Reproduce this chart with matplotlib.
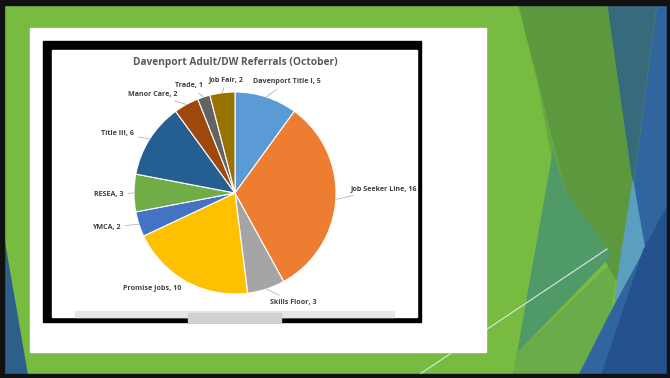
import numpy as np
import matplotlib.pyplot as plt
from matplotlib.patches import Rectangle, Polygon

# pie data
labels = ["Davenport Title I", "Job Seeker Line", "Skills Floor", "Promise Jobs", "YMCA",
          "RESEA", "Title III", "Manor Care", "Trade", "Job Fair"]
values = [5, 16, 3, 10, 2, 3, 6, 2, 1, 2]
colors = ["#5b9bd5", "#ed7d31", "#a5a5a5", "#ffc000", "#4472c4",
          "#70ad47", "#255e91", "#9e480e", "#636363", "#997300"]

# label text positions (pie units) and alignment
label_pos = [(0.18, 1.10), (1.14, 0.04), (0.35, -1.08), (-0.53, -0.94), (-1.13, -0.34),
             (-1.10, -0.01), (-1.00, 0.59), (-0.57, 0.98), (-0.32, 1.06), (-0.09, 1.12)]
label_ha = ["left", "left", "left", "right", "right", "right", "right", "right", "right", "center"]

W, H = 670, 378
fig = plt.figure(figsize=(W / 100, H / 100), dpi=100)

# slide background in pixel coords
bg = fig.add_axes([0, 0, 1, 1])
bg.set_xlim(0, W)
bg.set_ylim(H, 0)
bg.axis("off")
bg.add_patch(Rectangle((0, 0), W, H, color="#77bb41", zorder=0))

# facet shapes (right side + bottom left), back to front
shapes = [
    ([(620, 255), (517, 353), (512, 378), (600, 378)], "#6aac4a"),
    ([(657, 4), (670, 4), (670, 378), (577, 378), (614, 305), (645, 248), (633, 188)], "#3165a0"),
    ([(607, 4), (657, 4), (633, 188)], "#376a7a"),
    ([(518, 4), (607, 4), (633, 188), (617, 282), (565, 190)], "#5c993e"),
    ([(533, 60), (565, 190), (555, 175)], "#66a843"),
    ([(553, 150), (565, 190), (612, 255), (517, 353)], "#509a68"),
    ([(633, 178), (645, 248), (614, 305), (620, 260)], "#5b9fc0"),
    ([(670, 200), (643, 250), (600, 378), (670, 378)], "#23528f"),
    ([(4, 236), (4, 375), (28, 375)], "#2e5f8a"),
]
for pts, c in shapes:
    bg.add_patch(Polygon(pts, closed=True, color=c, lw=0, zorder=1))
bg.plot([417, 607], [376, 249], color="#dfe8e6", lw=0.8, zorder=2)

# white content box and black picture frame
bg.add_patch(Rectangle((30, 28), 456, 324, color="white", zorder=3))
bg.add_patch(Rectangle((43, 41), 378, 281, color="black", zorder=4))
bg.add_patch(Rectangle((52, 50), 365, 267, color="white", zorder=5))
bg.add_patch(Rectangle((75, 311), 319, 6, color="#e6e6e6", zorder=6))
bg.add_patch(Rectangle((188, 313), 93, 9, color="#d0d0d0", zorder=7))

# black slide border
for r in [(0, 0, W, 5), (0, 0, 4, H), (0, 374, W, 4), (667, 0, 3, H)]:
    bg.add_patch(Rectangle((r[0], r[1]), r[2], r[3], color="#111111", zorder=9))

bg.text(235, 62, "Davenport Adult/DW Referrals (October)", ha="center", va="center",
        fontsize=7.3, fontweight="bold", color="#595959", family="Open Sans", zorder=8)

# pie axes: centre (235,193), radius 101 px
cx, cy, r = 235, 193, 101
ax = fig.add_axes([(cx - r) / W, (H - cy - r) / H, 2 * r / W, 2 * r / H])
wedges, _ = ax.pie(values, colors=colors, startangle=90, counterclock=False,
                   wedgeprops=dict(edgecolor="white", linewidth=0.8))
ax.set_xlim(-1, 1)
ax.set_ylim(-1, 1)
ax.set_aspect("equal")

for w, name, v, pos, ha in zip(wedges, labels, values, label_pos, label_ha):
    mid = np.deg2rad((w.theta1 + w.theta2) / 2)
    ax.annotate(f"{name}, {v}", xy=(np.cos(mid), np.sin(mid)), xytext=pos,
                ha=ha, va="center", fontsize=5.1, fontweight="bold", color="#404040",
                family="Open Sans", annotation_clip=False,
                arrowprops=dict(arrowstyle="-", color="#a6a6a6", lw=0.5,
                                shrinkA=1, shrinkB=0))

fig.savefig("out.png", dpi=100)
